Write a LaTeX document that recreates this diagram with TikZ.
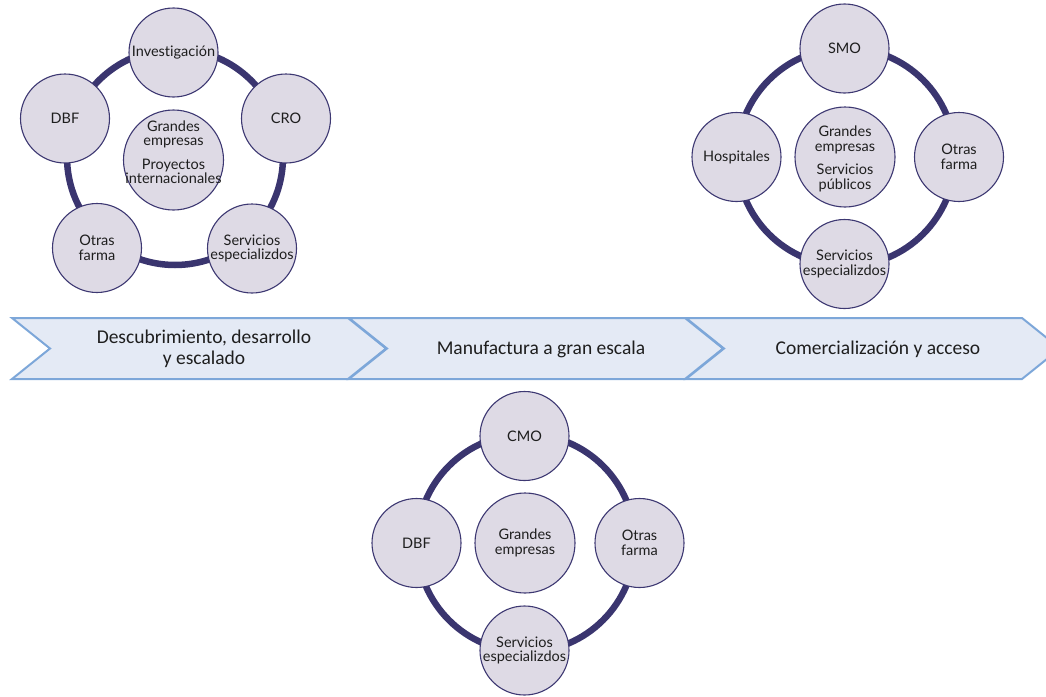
\documentclass[tikz,border=0pt]{standalone}
\usepackage{fontspec}
\setsansfont{Lato}[Ligatures=NoCommon]
\newfontfamily\stagefont{Carlito}
\definecolor{cyfill}{HTML}{DEDAE5}
\definecolor{cyline}{HTML}{3D3872}
\definecolor{cyring}{HTML}{3A356F}
\definecolor{stfill}{HTML}{E4EAF5}
\definecolor{stline}{HTML}{7DA7D9}
\definecolor{txtdark}{HTML}{1E1E1E}

\begin{document}
\begin{tikzpicture}[
      x=1pt, y=-1pt,
      font=\sffamily\fontsize{14.5}{14.5}\selectfont,
      actor/.style={circle, draw=cyline, line width=1.1pt, fill=cyfill, text=txtdark,
                    align=center, minimum size=89pt, inner sep=0pt},
      core/.style={actor, minimum size=100pt},
      coretxt/.style={text=txtdark, align=center, inner sep=0pt},
      ring/.style={draw=cyring, line width=6.5pt},
      stage/.style={draw=stline, line width=2pt, fill=stfill, line join=miter},
      stagetxt/.style={font=\stagefont\fontsize{19.5}{20.5}\selectfont, text=txtdark, align=center}
    ]
    \useasboundingbox (0,0) rectangle (1046,696);

    \foreach \x/\name/\lbl in {12/st1/{Descubrimiento, desarrollo\\y escalado},
                               349/st2/{Manufactura a gran escala},
                               686/st3/{Comercialización y acceso}} {
      \draw[stage] (\x,318) -- ++(336,0) -- ++(38,30.5) -- ++(-38,30.5) -- ++(-336,0) -- ++(38,-30.5) -- cycle;
      \node[stagetxt] (\name) at (\x+192,349) {\lbl};
    }

    \coordinate (r1) at (175,157);
    \draw[ring] (r1) circle (108pt);
    \node[core, label={[coretxt, yshift=8pt]center:{Grandes\\empresas\\[9pt]Proyectos\\internacionales}}] (g1) at (173.5,160) {};
    \node[actor] (inv) at (173.5,52.5) {Investigación};
    \node[actor] (cro) at (286,118.5) {CRO};
    \node[actor] (esp1) at (252,248.5) {Servicios\\especializdos};
    \node[actor] (otr1) at (97,248) {Otras\\farma};
    \node[actor] (dbf1) at (65,118.5) {DBF};

    \coordinate (r2) at (846,157);
    \draw[ring] (r2) circle (109pt);
    \node[core, label={[coretxt, yshift=-2pt]center:{Grandes\\empresas\\[9pt]Servicios\\públicos}}] (g2) at (845,157) {};
    \node[actor] (smo) at (844.5,48.5) {SMO};
    \node[actor] (otr2) at (959,157) {Otras\\farma};
    \node[actor] (esp2) at (844.5,264) {Servicios\\especializdos};
    \node[actor] (hos) at (736.5,157) {Hospitales};

    \coordinate (r3) at (526,543);
    \draw[ring] (r3) circle (109pt);
    \node[core] (g3) at (525,543) {Grandes\\empresas};
    \node[actor] (cmo) at (524.5,436) {CMO};
    \node[actor] (otr3) at (639.5,543) {Otras\\farma};
    \node[actor] (esp3) at (524.5,650.5) {Servicios\\especializdos};
    \node[actor] (dbf3) at (416.5,543) {DBF};
  \end{tikzpicture}
\end{document}
